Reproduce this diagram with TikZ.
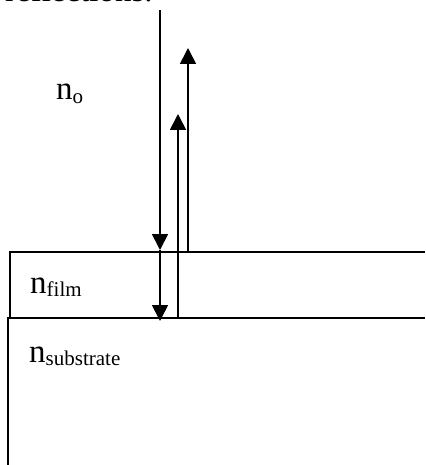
\documentclass[tikz,border=0pt]{standalone}
\usepackage{fontspec}
\setmainfont{Liberation Serif}
\usetikzlibrary{arrows.meta}

% subscript set lower and smaller, as in the figure
\newcommand{\lsub}[1]{\raisebox{-3.5pt}{\fontsize{21}{21}\selectfont #1}}

\begin{document}
\begin{tikzpicture}[
  x=1pt, y=-1pt,
  every node/.style={font=\fontsize{33}{36}\selectfont, inner sep=0pt},
  layer/.style={line width=1.8pt, black},
  ray/.style={line width=1.8pt, -{Triangle[length=16pt,width=16pt]}},
  lbl/.style={anchor=base west},
]
\useasboundingbox (0,0) rectangle (425,465);

% caption text cut by the top edge
\node[lbl] (cap) at (5,2) {reflections.};

% Layers: film on top of substrate
\draw[layer] (425,252) -- (10,252) -- (10,318);
\draw[layer] (425,318) -- (8,318) -- (8,465);

% Points where the rays start and stop
\coordinate (src) at (160,10);
\coordinate (hitfilm) at (160,250);
\coordinate (hitsub) at (160,321);
\coordinate (refl1) at (188,252);
\coordinate (out1) at (188,48);
\coordinate (refl2) at (178,318);
\coordinate (out2) at (178,114);

% Incident and transmitted rays
\draw[ray] (src) -- (hitfilm);
\draw[ray] (hitfilm) -- (hitsub);

% Reflected rays
\draw[ray] (refl1) -- (out1);
\draw[ray] (refl2) -- (out2);

% Refractive indices
\node[lbl] (nair) at (56,100) {n\lsub{o}};
\node[lbl] (nfilm) at (30,293) {n\lsub{film}};
\node[lbl] (nsub) at (29,362) {n\lsub{substrate}};

\end{tikzpicture}
\end{document}
